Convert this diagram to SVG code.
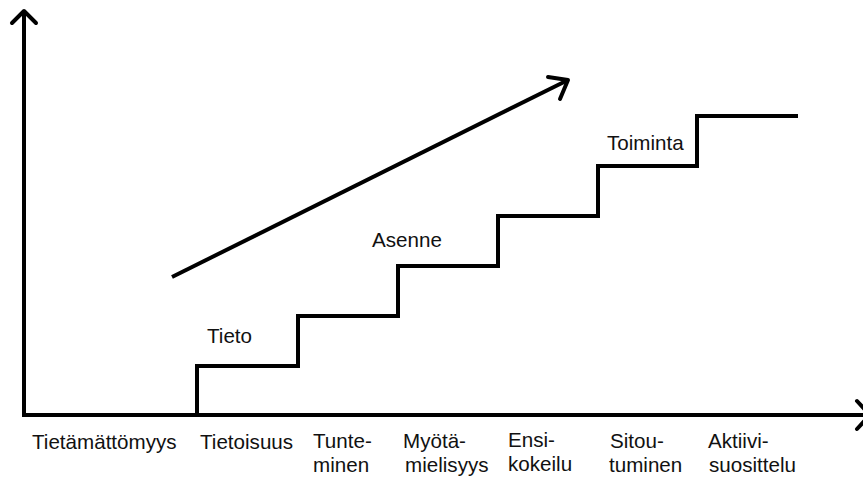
<svg xmlns="http://www.w3.org/2000/svg" width="863" height="477" viewBox="0 0 863 477">
<style>
.ln{fill:none;stroke:#000;stroke-width:4;stroke-linejoin:miter;stroke-linecap:butt}
.ah{fill:none;stroke:#000;stroke-width:4;stroke-linecap:round;stroke-linejoin:round}
text{font-family:"Liberation Sans",Arial,sans-serif;font-size:20.6px;fill:#111}
</style>
<rect width="863" height="477" fill="#fff"/>
<g id="connectors">
<g id="y-axis"><line class="ln" x1="24" y1="13" x2="24" y2="417"/><polyline class="ah" points="12,23 24,11 36,23"/></g>
<g id="x-axis"><line class="ln" x1="22" y1="415" x2="866" y2="415"/><polyline class="ah" points="857,401 870,415 857,429"/></g>
<g id="trend-arrow"><line class="ln" x1="172" y1="277" x2="566" y2="81"/><polyline class="ah" points="548,77 568,80 560,99"/></g>
<g id="stairs"><polyline class="ln" points="197,415 197,366 298,366 298,316 398,316 398,266 498,266 498,216 598,216 598,166 697,166 697,116 798,116"/></g>
</g>
<g id="stage-labels">
<text x="32" y="449">Tietämättömyys</text>
<text x="200" y="449">Tietoisuus</text>
<text x="313" y="448">Tunte-</text>
<text x="313" y="472">minen</text>
<text x="403" y="448">Myötä-</text>
<text x="405" y="472">mielisyys</text>
<text x="508" y="447">Ensi-</text>
<text x="508" y="471">kokeilu</text>
<text x="610" y="448">Sitou-</text>
<text x="609" y="472">tuminen</text>
<text x="708" y="448">Aktiivi-</text>
<text x="709" y="472">suosittelu</text>
</g>
<g id="phase-labels">
<text x="207" y="343">Tieto</text>
<text x="372" y="247">Asenne</text>
<text x="607" y="150">Toiminta</text>
</g>
</svg>
